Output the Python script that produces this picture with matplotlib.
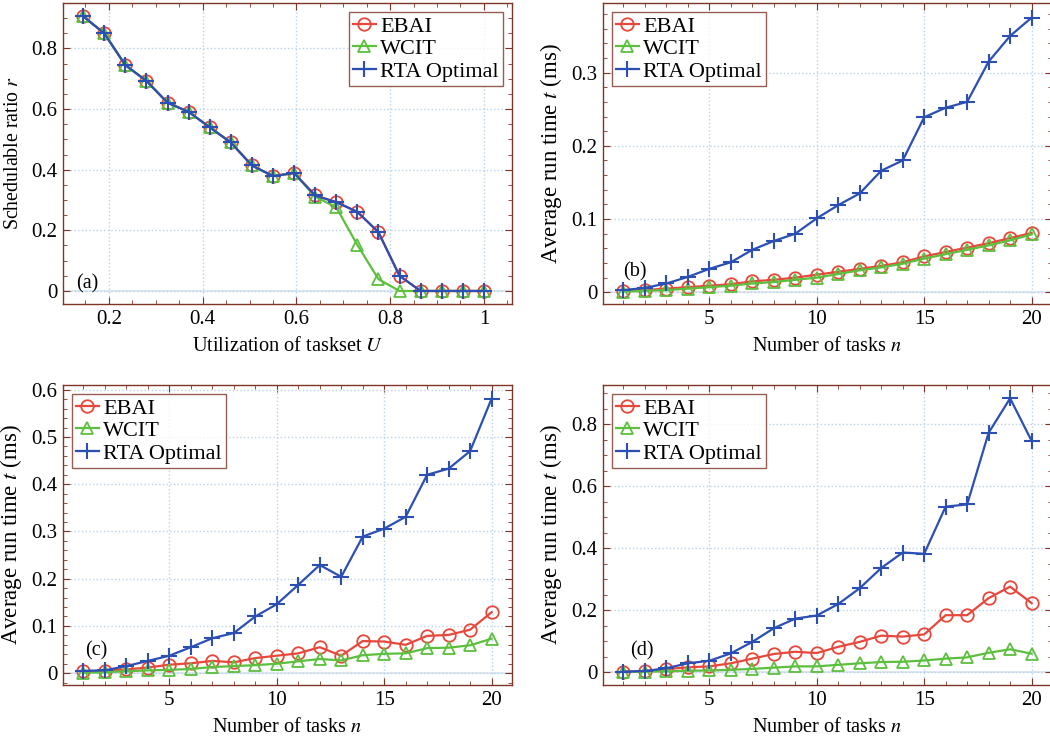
import matplotlib
matplotlib.use("Agg")
import matplotlib.pyplot as plt
from matplotlib.ticker import AutoMinorLocator

plt.rcParams['font.family'] = ['Liberation Serif', 'DejaVu Serif']
plt.rcParams['mathtext.fontset'] = 'stix'

# data
util = [0.145, 0.19, 0.235, 0.28, 0.325, 0.37, 0.415, 0.46, 0.505, 0.55,
        0.595, 0.64, 0.685, 0.73, 0.775, 0.82, 0.865, 0.91, 0.955, 1.0]
a_ebai = [0.906, 0.850, 0.745, 0.693, 0.621, 0.591, 0.540, 0.490, 0.414, 0.379,
          0.389, 0.315, 0.293, 0.261, 0.194, 0.050, 0, 0, 0, 0]
a_wcit = [0.906, 0.850, 0.745, 0.693, 0.621, 0.591, 0.540, 0.490, 0.414, 0.379,
          0.389, 0.311, 0.276, 0.152, 0.039, 0, 0, 0, 0, 0]
a_rta = list(a_ebai)

tasks = list(range(1, 21))
b_ebai = [0.002, 0.003, 0.005, 0.007, 0.009, 0.011, 0.015, 0.017, 0.020, 0.024,
          0.028, 0.032, 0.036, 0.041, 0.049, 0.055, 0.061, 0.067, 0.074, 0.081]
b_wcit = [0.001, 0.002, 0.003, 0.005, 0.007, 0.009, 0.012, 0.014, 0.017, 0.020,
          0.025, 0.030, 0.034, 0.039, 0.046, 0.052, 0.058, 0.064, 0.071, 0.079]
b_rta = [0.003, 0.006, 0.012, 0.021, 0.032, 0.041, 0.058, 0.070, 0.080, 0.101,
         0.119, 0.135, 0.166, 0.180, 0.239, 0.252, 0.260, 0.315, 0.350, 0.375]

c_ebai = [0.004, 0.005, 0.008, 0.012, 0.018, 0.021, 0.026, 0.023, 0.032, 0.037,
          0.042, 0.055, 0.037, 0.068, 0.067, 0.060, 0.079, 0.081, 0.092, 0.129]
c_wcit = [0.001, 0.002, 0.004, 0.006, 0.007, 0.009, 0.013, 0.015, 0.017, 0.020,
          0.025, 0.030, 0.027, 0.038, 0.041, 0.042, 0.053, 0.054, 0.059, 0.073]
c_rta = [0.005, 0.006, 0.015, 0.026, 0.037, 0.055, 0.074, 0.085, 0.120, 0.146,
         0.187, 0.229, 0.204, 0.289, 0.306, 0.331, 0.420, 0.433, 0.470, 0.581]

d_ebai = [0.002, 0.004, 0.010, 0.016, 0.019, 0.029, 0.044, 0.059, 0.066, 0.062,
          0.082, 0.098, 0.118, 0.115, 0.122, 0.184, 0.184, 0.239, 0.276, 0.223]
d_wcit = [0.001, 0.002, 0.003, 0.005, 0.006, 0.008, 0.011, 0.015, 0.019, 0.019,
          0.024, 0.029, 0.033, 0.034, 0.038, 0.044, 0.048, 0.063, 0.074, 0.060]
d_rta = [0.002, 0.004, 0.013, 0.029, 0.037, 0.061, 0.098, 0.142, 0.173, 0.183,
         0.220, 0.271, 0.336, 0.386, 0.382, 0.534, 0.541, 0.772, 0.883, 0.746]

RED = '#e8473b'
GREEN = '#5cbf3e'
BLUE = '#2b4fb3'
SPINE = '#7d3526'

W, H = 1050, 740
fig = plt.figure(figsize=(10.5, 7.4), dpi=100)


def px_axes(left, top, right, bottom):
    return fig.add_axes([left / W, 1 - bottom / H, (right - left) / W, (bottom - top) / H])


def draw(ax, x, ebai, wcit, rta, legend_loc, tag, tag_xy):
    ax.plot(x, ebai, color=RED, lw=1.6, marker='o', ms=9, mfc='none', mew=1.3, label='EBAI', zorder=3)
    ax.plot(x, wcit, color=GREEN, lw=1.6, marker='^', ms=8, mfc='none', mew=1.3, label='WCIT', zorder=4)
    ax.plot(x, rta, color=BLUE, lw=1.6, marker='+', ms=12, mew=1.5, label='RTA Optimal', zorder=5)
    for s in ax.spines.values():
        s.set_color(SPINE)
        s.set_linewidth(1.0)
    ax.tick_params(which='both', direction='in', top=True, right=True, color=SPINE, labelsize=15)
    ax.tick_params(which='major', length=5, pad=4)
    ax.tick_params(which='minor', length=3)
    ax.xaxis.set_minor_locator(AutoMinorLocator())
    ax.yaxis.set_minor_locator(AutoMinorLocator())
    ax.grid(True, which='major', linestyle=':', color='#b9d3ea', linewidth=1.0)
    ax.axhline(0, color='#d8e4ee', lw=1.2, zorder=1)
    leg = ax.legend(loc=legend_loc, fontsize=16, frameon=True, fancybox=False,
                    handlelength=1.0, handletextpad=0.2, borderpad=0.2,
                    labelspacing=0.08, borderaxespad=0.4)
    leg.get_frame().set_edgecolor(SPINE)
    leg.get_frame().set_linewidth(1.0)
    ax.text(tag_xy[0], tag_xy[1], tag, transform=ax.transAxes, fontsize=14.5)


# (a)
ax = px_axes(63, 3, 512, 304)
draw(ax, util, a_ebai, a_wcit, a_rta, 'upper right', '(a)', (0.03, 0.05))
ax.set_xlim(0.102, 1.06)
ax.set_ylim(-0.043, 0.95)
ax.set_xticks([0.2, 0.4, 0.6, 0.8, 1.0], ['0.2', '0.4', '0.6', '0.8', '1'])
ax.set_yticks([0, 0.2, 0.4, 0.6, 0.8], ['0', '0.2', '0.4', '0.6', '0.8'])
ax.set_xlabel('Utilization of taskset $U$', fontsize=14.6, labelpad=6)
ax.set_ylabel('Schedulable ratio $r$', fontsize=14.3, labelpad=6)

# (b)
ax = px_axes(603, 3, 1052, 304)
draw(ax, tasks, b_ebai, b_wcit, b_rta, 'upper left', '(b)', (0.045, 0.09))
ax.set_xlim(0.05, 20.95)
ax.set_ylim(-0.016, 0.395)
ax.set_xticks([5, 10, 15, 20])
ax.set_yticks([0, 0.1, 0.2, 0.3], ['0', '0.1', '0.2', '0.3'])
ax.set_xlabel('Number of tasks $n$', fontsize=14.6, labelpad=6)
ax.set_ylabel('Average run time $t$ (ms)', fontsize=16.5, labelpad=5)

# (c)
ax = px_axes(63, 385, 512, 685)
draw(ax, tasks, c_ebai, c_wcit, c_rta, 'upper left', '(c)', (0.05, 0.10))
ax.set_xlim(0.05, 20.95)
ax.set_ylim(-0.025, 0.61)
ax.set_xticks([5, 10, 15, 20])
ax.set_yticks([0, 0.1, 0.2, 0.3, 0.4, 0.5, 0.6], ['0', '0.1', '0.2', '0.3', '0.4', '0.5', '0.6'])
ax.set_xlabel('Number of tasks $n$', fontsize=14.6, labelpad=6)
ax.set_ylabel('Average run time $t$ (ms)', fontsize=16.5, labelpad=5)

# (d)
ax = px_axes(603, 385, 1052, 685)
draw(ax, tasks, d_ebai, d_wcit, d_rta, 'upper left', '(d)', (0.06, 0.10))
ax.set_xlim(0.05, 20.95)
ax.set_ylim(-0.041, 0.926)
ax.set_xticks([5, 10, 15, 20])
ax.set_yticks([0, 0.2, 0.4, 0.6, 0.8], ['0', '0.2', '0.4', '0.6', '0.8'])
ax.set_xlabel('Number of tasks $n$', fontsize=14.6, labelpad=6)
ax.set_ylabel('Average run time $t$ (ms)', fontsize=16.5, labelpad=5)

fig.savefig('out.png', dpi=100)
